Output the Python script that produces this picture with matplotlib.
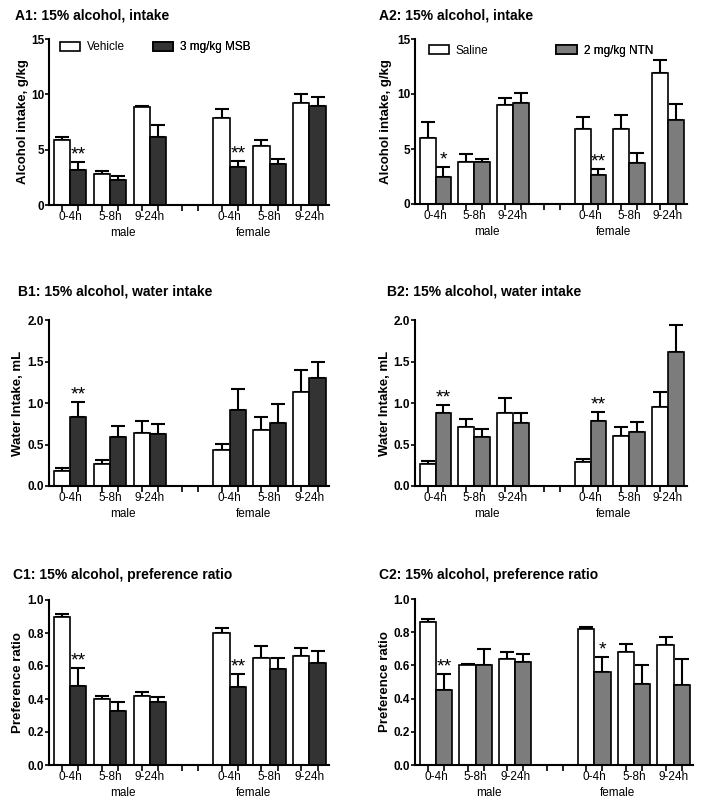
import numpy as np
import matplotlib.pyplot as plt
from matplotlib.patches import Patch

plt.rcParams['font.family'] = ['Liberation Sans', 'DejaVu Sans']

times = ['0-4h', '5-8h', '9-24h']

# order: male 0-4, 5-8, 9-24, female 0-4, 5-8, 9-24
a1_veh = [5.9, 2.8, 8.84, 7.9, 5.35, 9.2]
a1_veh_err = [0.25, 0.3, 0.12, 0.75, 0.5, 0.8]
a1_msb = [3.2, 2.25, 6.15, 3.4, 3.7, 8.95]
a1_msb_err = [0.7, 0.4, 1.05, 0.57, 0.42, 0.85]

a2_sal = [6.0, 3.78, 8.98, 6.8, 6.8, 11.9]
a2_sal_err = [1.5, 0.8, 0.67, 1.1, 1.28, 1.16]
a2_ntn = [2.5, 3.78, 9.18, 2.6, 3.7, 7.6]
a2_ntn_err = [0.9, 0.3, 0.94, 0.58, 0.97, 1.49]

b1_veh = [0.18, 0.27, 0.64, 0.43, 0.67, 1.13]
b1_veh_err = [0.04, 0.04, 0.14, 0.08, 0.16, 0.27]
b1_msb = [0.83, 0.59, 0.63, 0.92, 0.76, 1.30]
b1_msb_err = [0.18, 0.13, 0.12, 0.25, 0.23, 0.2]

b2_sal = [0.265, 0.71, 0.875, 0.29, 0.60, 0.95]
b2_sal_err = [0.04, 0.10, 0.18, 0.035, 0.11, 0.18]
b2_ntn = [0.88, 0.59, 0.755, 0.78, 0.655, 1.61]
b2_ntn_err = [0.09, 0.1, 0.13, 0.11, 0.12, 0.33]

c1_veh = [0.895, 0.40, 0.42, 0.80, 0.65, 0.66]
c1_veh_err = [0.02, 0.02, 0.02, 0.03, 0.07, 0.05]
c1_msb = [0.48, 0.33, 0.38, 0.47, 0.58, 0.62]
c1_msb_err = [0.11, 0.05, 0.03, 0.08, 0.07, 0.07]

c2_sal = [0.86, 0.60, 0.64, 0.82, 0.68, 0.72]
c2_sal_err = [0.02, 0.01, 0.04, 0.01, 0.05, 0.05]
c2_ntn = [0.45, 0.60, 0.62, 0.56, 0.49, 0.48]
c2_ntn_err = [0.1, 0.1, 0.05, 0.09, 0.11, 0.16]

dark = '#333333'
grey = '#7c7c7c'

fig = plt.figure(figsize=(7.04, 8.11), dpi=100)
W, H = 704, 811

P = 2.45
groups = [0, 1, 2, 4, 5, 6]


def px_axes(l, r, t, b):
    return fig.add_axes([l / W, (H - b) / H, (r - l) / W, (b - t) / H])


def panel(ax, veh, veh_err, drug, drug_err, col, ymax, yticks, yfmt, ylabel,
          stars, leg_names, leg_x, leg_y, ylab_x):
    xl = np.array([g * P for g in groups])
    xr = xl + 1
    ax.bar(xl, veh, width=1, color='white', edgecolor='black', linewidth=1.2,
           zorder=2)
    ax.bar(xr, drug, width=1, color=col, edgecolor='black', linewidth=1.2,
           zorder=2)
    ax.errorbar(xl, veh, yerr=[np.zeros(6), veh_err], fmt='none',
                ecolor='black', elinewidth=1.5, capsize=5, capthick=1.5, zorder=1)
    ax.errorbar(xr, drug, yerr=[np.zeros(6), drug_err], fmt='none',
                ecolor='black', elinewidth=1.5, capsize=5, capthick=1.5, zorder=1)
    for i, s in stars:
        ax.annotate(s, (xr[i], drug[i] + drug_err[i]), xytext=(0, -1),
                    textcoords='offset points', ha='center', va='bottom',
                    fontsize=14)
    ax.set_xlim(-0.8, 6 * P + 1.7)
    ax.set_ylim(0, ymax)
    ticks = sorted([g * P for g in range(7)] + [g * P + 1 for g in range(7)])
    ax.set_xticks(ticks)
    ax.set_xticklabels([])
    ax.set_xticks([g * P + 0.5 for g in groups], minor=True)
    ax.set_xticklabels(times * 2, minor=True, fontsize=8.5)
    ax.tick_params(axis='x', which='major', direction='out', length=4, width=1.2)
    ax.tick_params(axis='x', which='minor', length=0, pad=4.5)
    ax.set_yticks(yticks)
    ax.set_yticklabels([yfmt.format(v) for v in yticks], fontsize=8.5,
                       fontweight='bold')
    ax.tick_params(axis='y', direction='out', length=3, width=1.2, pad=0.5)
    ax.set_ylabel(ylabel, fontsize=9.5, fontweight='bold')
    ax.yaxis.set_label_coords(ylab_x, 0.5)
    for sp in ['top', 'right']:
        ax.spines[sp].set_visible(False)
    for sp in ['left', 'bottom']:
        ax.spines[sp].set_linewidth(1.5)
    ax.text(3.75, -0.17, 'male', transform=ax.get_xaxis_transform(),
            ha='center', va='center', fontsize=8.5)
    ax.text(11.75, -0.17, 'female', transform=ax.get_xaxis_transform(),
            ha='center', va='center', fontsize=8.5)
    if leg_names:
        for name, fc, x in zip(leg_names, ['white', col], leg_x):
            lg = ax.legend([Patch(facecolor=fc, edgecolor='black', linewidth=1.2)],
                           [name], loc='center left', bbox_to_anchor=(x, leg_y),
                           frameon=False, borderpad=0, borderaxespad=0,
                           handlelength=1.7, handleheight=0.8,
                           handletextpad=0.6, fontsize=8.5)
            ax.add_artist(lg)


ax = px_axes(49, 329, 39, 205)
panel(ax, a1_veh, a1_veh_err, a1_msb, a1_msb_err, dark, 15, [0, 5, 10, 15],
      '{:g}', 'Alcohol intake, g/kg', [(0, '**'), (3, '**')],
      ['Vehicle', '3 mg/kg MSB'], [0.04, 0.37], 0.95, -0.07)

ax = px_axes(415, 687, 39, 204)
panel(ax, a2_sal, a2_sal_err, a2_ntn, a2_ntn_err, grey, 15, [0, 5, 10, 15],
      '{:g}', 'Alcohol intake, g/kg', [(0, '*'), (3, '**')],
      ['Saline', '2 mg/kg NTN'], [0.05, 0.52], 0.93, -0.085)

ax = px_axes(49, 329, 320, 486)
panel(ax, b1_veh, b1_veh_err, b1_msb, b1_msb_err, dark, 2.0,
      [0, 0.5, 1.0, 1.5, 2.0], '{:.1f}', 'Water Intake, mL', [(0, '**')],
      None, None, None, -0.09)

ax = px_axes(415, 687, 320, 486)
panel(ax, b2_sal, b2_sal_err, b2_ntn, b2_ntn_err, grey, 2.0,
      [0, 0.5, 1.0, 1.5, 2.0], '{:.1f}', 'Water Intake, mL',
      [(0, '**'), (3, '**')], None, None, None, -0.088)

ax = px_axes(49, 329, 600, 765)
panel(ax, c1_veh, c1_veh_err, c1_msb, c1_msb_err, dark, 1.0,
      [0, 0.2, 0.4, 0.6, 0.8, 1.0], '{:.1f}', 'Preference ratio',
      [(0, '**'), (3, '**')], None, None, None, -0.09)

ax = px_axes(415, 693, 599, 765)
panel(ax, c2_sal, c2_sal_err, c2_ntn, c2_ntn_err, grey, 1.0,
      [0, 0.2, 0.4, 0.6, 0.8, 1.0], '{:.1f}', 'Preference ratio',
      [(0, '**'), (3, '*')], None, None, None, -0.088)

titles = [('A1: 15% alcohol, intake', 15, 15),
          ('A2: 15% alcohol, intake', 379, 15),
          ('B1: 15% alcohol, water intake', 18, 292),
          ('B2: 15% alcohol, water intake', 387, 292),
          ('C1: 15% alcohol, preference ratio', 13, 575),
          ('C2: 15% alcohol, preference ratio', 379, 575)]
for t, x, y in titles:
    fig.text(x / W, 1 - y / H, t, ha='left', va='center', fontsize=10,
             fontweight='bold')

fig.savefig('out.png', dpi=100)
